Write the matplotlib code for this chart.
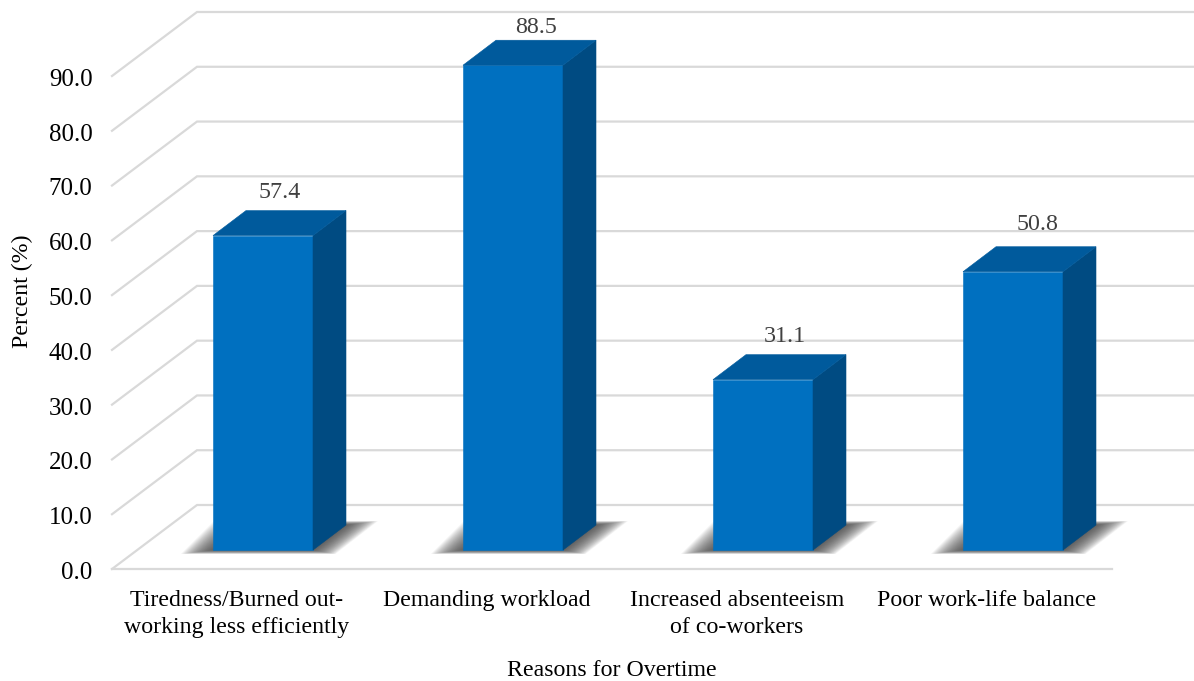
import matplotlib
matplotlib.use('Agg')
import matplotlib.pyplot as plt
from matplotlib.patches import Polygon
from matplotlib.transforms import ScaledTranslation
import numpy as np

plt.rcParams['font.family'] = ['Liberation Serif', 'DejaVu Serif']

categories = ['Tiredness/Burned out-\nworking less efficiently', 'Demanding workload',
              'Increased absenteeism\nof co-workers', 'Poor work-life balance']
values = [57.4, 88.5, 31.1, 50.8]
value_labels = ['57.4', '88.5', '31.1', '50.8']
y_ticks = [0, 10, 20, 30, 40, 50, 60, 70, 80, 90]

W, H = 1194, 681
LEFT, BOTTOM, PLOT_W, PLOT_H = 112, 569, 1000, 493

# size of one data unit in pixels, used to express the oblique depth
XU = PLOT_W / 4
YU = PLOT_H / 90

FRONT = '#0070c0'
TOP = '#005a9c'
SIDE = '#004b82'
GRID = '#d9d9d9'


def off(x, y, px=0, py=0):
    """Data point shifted by a pixel offset (py goes upwards)."""
    return (x + px / XU, y + py / YU)


fig = plt.figure(figsize=(W / 100, H / 100), dpi=100)
ax = fig.add_axes([LEFT / W, (H - BOTTOM) / H, PLOT_W / W, PLOT_H / H])
ax.set_xlim(-0.5, 3.5)
ax.set_ylim(0, 90)
for s in ax.spines.values():
    s.set_visible(False)

# Floor, side wall and back wall gridlines
WALL_X, WALL_Y = 85, 64
for t in y_ticks:
    x0, y0 = off(-0.5, t)
    x1, y1 = off(-0.5, t, WALL_X, WALL_Y)
    x2, y2 = off(3.5, t, WALL_X, WALL_Y)
    ax.plot([x0, x1, x2], [y0, y1, y2], color=GRID, lw=1.6, clip_on=False,
            solid_joinstyle='miter', zorder=1)
x0, y0 = off(-0.5, 0)
x1, y1 = off(3.5, 0)
ax.plot([x0, x1], [y0, y1], color=GRID, lw=1.6, clip_on=False, zorder=1)

# Bars with an oblique top and side, sitting on a soft floor shadow
BAR_W, DX, DY = 100, 33, 25
BASE = 19
SHIFT = 26
for i, v in enumerate(values):
    xl = i + (SHIFT - BAR_W / 2) / XU
    yb = BASE / YU

    # shadow built from stacked translucent parallelograms
    for g in np.linspace(1, 0, 30):
        grow = 32 * g
        rise = 4 * g
        pts = [off(xl, yb, -grow, -rise),
               off(xl, yb, BAR_W + grow * 0.7, -rise),
               off(xl, yb, BAR_W + DX + grow, DY + rise),
               off(xl, yb, DX - grow, DY + rise)]
        ax.add_patch(Polygon(pts, closed=True, facecolor='#404040', edgecolor='none',
                             alpha=0.05, zorder=2, clip_on=False))

    xr = xl + BAR_W / XU
    yt = yb + v
    ax.add_patch(Polygon([(xl, yb), (xr, yb), (xr, yt), (xl, yt)], facecolor=FRONT,
                         edgecolor=FRONT, lw=0.4, zorder=3, clip_on=False))
    ax.add_patch(Polygon([(xr, yb), off(xr, yb, DX, DY), off(xr, yt, DX, DY), (xr, yt)],
                         facecolor=SIDE, edgecolor=SIDE, lw=0.4, zorder=3, clip_on=False))
    ax.add_patch(Polygon([(xl, yt), (xr, yt), off(xr, yt, DX, DY), off(xl, yt, DX, DY)],
                         facecolor=TOP, edgecolor=TOP, lw=0.4, zorder=3, clip_on=False))

# Value labels above the top faces, nudged individually in pixels
lift_x = [17, 23, 22, 25]
lift_y = [43, 38, 43, 47]
for i, v in enumerate(values):
    xl = i + (SHIFT - BAR_W / 2) / XU
    lx, ly = off(xl, BASE / YU + v, BAR_W / 2 + lift_x[i], lift_y[i])
    ax.text(lx, ly, value_labels[i], ha='center', va='center', fontsize=17.3,
            color='#404040', clip_on=False, zorder=4)

ax.set_yticks(y_ticks)
ax.set_yticklabels([f'{t:.1f}' for t in y_ticks])
ax.set_xticks(range(len(categories)))
ax.set_xticklabels(categories, linespacing=1.4)
ax.tick_params(axis='y', length=0, labelsize=18, labelcolor='black', pad=14)
ax.tick_params(axis='x', length=0, labelsize=17.2, labelcolor='black', pad=15)
for lab in ax.get_yticklabels():
    lab.set_transform(lab.get_transform() + ScaledTranslation(0, -1 / 72, fig.dpi_scale_trans))

fig.text(22 / W, 1 - 291 / H, 'Percent (%)', rotation=90, ha='center', va='center',
         fontsize=17.2, color='black')
fig.text(612 / W, 1 - 671 / H, 'Reasons for Overtime', ha='center', va='center',
         fontsize=17.2, color='black')

fig.savefig('out.png', dpi=100, facecolor='white')
plt.close(fig)
